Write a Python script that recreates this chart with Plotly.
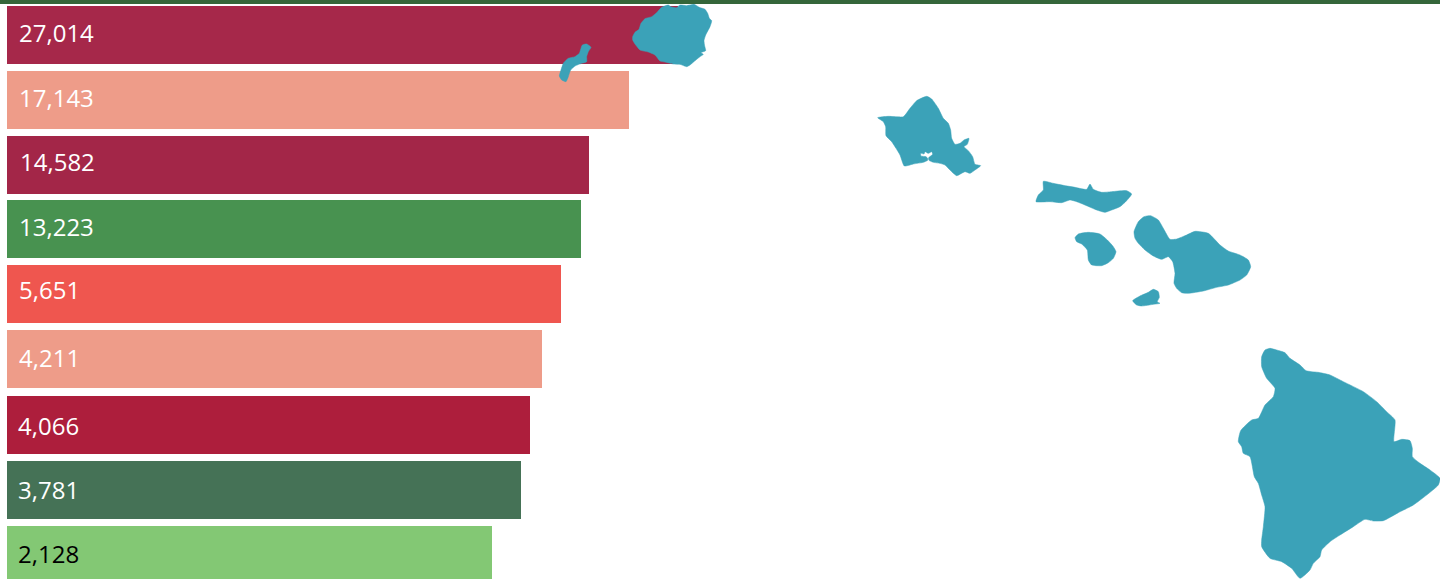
import plotly.graph_objects as go

# --- data ---
value_labels = ["27,014", "17,143", "14,582", "13,223", "5,651", "4,211", "4,066", "3,781", "2,128"]
bar_lengths = [671, 622, 582, 574, 554, 535, 523, 514, 485]
bar_rows = [0, 1, 2, 2.985, 3.985, 4.985, 6, 7, 8]
bar_colors = ["#A6284A", "#EE9C89", "#A32648", "#489250", "#EF564F", "#EE9C89", "#AD1E3C", "#457256", "#83C874"]
label_colors = ["#FFFFFF"] * 8 + ["#000000"]
label_dy = [3, 3, 4, 3, 5, 2, 0, 1, 2]
label_dx = [0, 0, 1, 0, 0, 0, -1, -1, -1]

ISLAND_COLOR = "#3BA2B8"
TOP_RULE = "#35663A"

# island outlines, traced at 3 units per map unit, each with its own origin
kauai = (540, 0, [(278,110),(285,97),(297,88),(303,70),(315,56),(335,50),(350,38),(365,22),(385,15),(392,20),(410,23),(420,15),(440,17),(462,13),(478,22),(495,28),(503,40),(508,55),(515,62),(510,80),(497,105),(492,122),(494,138),(497,152),(483,158),(490,163),(480,170),(465,182),(450,195),(440,200),(420,193),(400,192),(375,186),(360,183),(345,165),(325,156),(300,150),(285,132),(278,120)])
niihau = (540, 0, [(127,135),(140,132),(153,142),(145,155),(140,170),(140,185),(125,190),(105,198),(92,210),(85,230),(78,245),(65,240),(58,228),(63,210),(70,190),(85,175),(105,170),(118,160),(122,148)])
oahu = (860, 85, [(53,98),(85,94),(130,95),(150,70),(170,47),(200,34),(215,42),(235,70),(250,100),(265,115),(272,135),(275,160),(285,178),(300,175),(312,165),(327,160),(322,178),(312,185),(325,197),(338,215),(345,238),(362,242),(345,255),(330,265),(315,260),(290,272),(270,255),(255,240),(240,235),(220,232),(207,226),(206,218),(218,208),(215,200),(205,205),(195,200),(192,207),(182,205),(183,213),(198,215),(203,220),(203,226),(190,232),(160,237),(133,243),(120,210),(108,190),(95,170),(78,152),(77,125),(70,110)])
molokai = (1020, 170, [(70,34),(100,40),(130,46),(165,52),(200,58),(210,42),(220,58),(245,67),(275,65),(320,62),(335,72),(320,92),(300,110),(275,120),(255,127),(230,120),(195,105),(170,95),(150,90),(125,98),(90,95),(48,95),(55,75),(70,60)])
lanai = (1020, 170, [(165,203),(175,192),(205,187),(240,192),(262,210),(280,230),(288,245),(280,265),(265,278),(245,287),(215,285),(205,270),(202,240),(185,222),(170,215)])
maui = (1020, 170, [(342,185),(355,155),(372,140),(392,137),(415,150),(430,175),(450,208),(470,207),(500,195),(525,184),(565,190),(600,225),(625,243),(660,255),(685,270),(692,290),(680,315),(660,330),(625,345),(590,352),(550,363),(505,370),(485,368),(470,355),(462,340),(465,310),(458,275),(445,260),(425,268),(400,258),(375,240),(355,220),(345,205)])
kahoolawe = (1020, 170, [(338,392),(360,378),(385,367),(400,358),(415,365),(418,382),(412,395),(420,400),(400,403),(365,408),(350,405)])
hawaii = (1220, 340, [(125,50),(135,30),(150,25),(170,30),(195,38),(210,55),(240,75),(258,92),(275,95),(295,97),(330,105),(370,125),(430,155),(470,185),(500,215),(525,240),(522,305),(545,298),(570,302),(577,325),(577,350),(600,370),(630,390),(660,415),(655,435),(620,465),(580,495),(535,518),(490,542),(460,543),(435,538),(400,560),(360,585),(330,605),(305,630),(300,650),(280,670),(270,690),(240,715),(215,685),(185,665),(150,655),(125,620),(125,600),(130,560),(135,500),(125,465),(115,430),(103,410),(90,350),(70,340),(65,320),(55,305),(62,272),(95,240),(115,235),(135,195),(160,170),(165,145),(140,115),(125,80)])
islands = {"Kauai": kauai, "Niihau": niihau, "Oahu": oahu, "Molokai": molokai,
           "Lanai": lanai, "Maui": maui, "Kahoolawe": kahoolawe, "Hawaii": hawaii}

fig = go.Figure()
fig.add_trace(go.Bar(
    y=bar_rows, x=bar_lengths, orientation="h", width=58 / 65,
    marker=dict(color=bar_colors, line_width=0), hoverinfo="skip", showlegend=False,
))

for name, (ox, oy, pts) in islands.items():
    xs = [ox + p[0] / 3 for p in pts] + [ox + pts[0][0] / 3]
    ys = [oy + p[1] / 3 for p in pts] + [oy + pts[0][1] / 3]
    fig.add_trace(go.Scatter(
        x=xs, y=ys, xaxis="x2", yaxis="y2", mode="lines", fill="toself", name=name,
        fillcolor=ISLAND_COLOR, line=dict(color=ISLAND_COLOR, width=0.5, shape="spline", smoothing=0.5),
        hoverinfo="skip", showlegend=False,
    ))

annotations = [
    dict(x=10, y=bar_rows[i], xref="x", yref="y", text=t, showarrow=False, xanchor="left", yanchor="middle",
         xshift=label_dx[i], yshift=label_dy[i],
         font=dict(family="Open Sans", size=24, color=label_colors[i]))
    for i, t in enumerate(value_labels)
]

fig.update_layout(
    width=1440, height=579, margin=dict(l=0, r=0, t=0, b=0),
    paper_bgcolor="white", plot_bgcolor="white", showlegend=False, bargap=0,
    xaxis=dict(range=[-7, 1433], visible=False, fixedrange=True),
    yaxis=dict(range=[(579 - 35) / 65, -35 / 65], visible=False, fixedrange=True),
    xaxis2=dict(range=[0, 1440], visible=False, overlaying="x", fixedrange=True),
    yaxis2=dict(range=[579, 0], visible=False, overlaying="y", fixedrange=True),
    annotations=annotations,
    shapes=[dict(type="rect", xref="paper", yref="paper", x0=0, x1=1, y0=1 - 4 / 579, y1=1,
                 fillcolor=TOP_RULE, line_width=0, layer="above")],
)

fig.write_html("out.html", config={"displayModeBar": False},
               post_script="document.body.style.margin='0';document.body.style.overflow='hidden';")
